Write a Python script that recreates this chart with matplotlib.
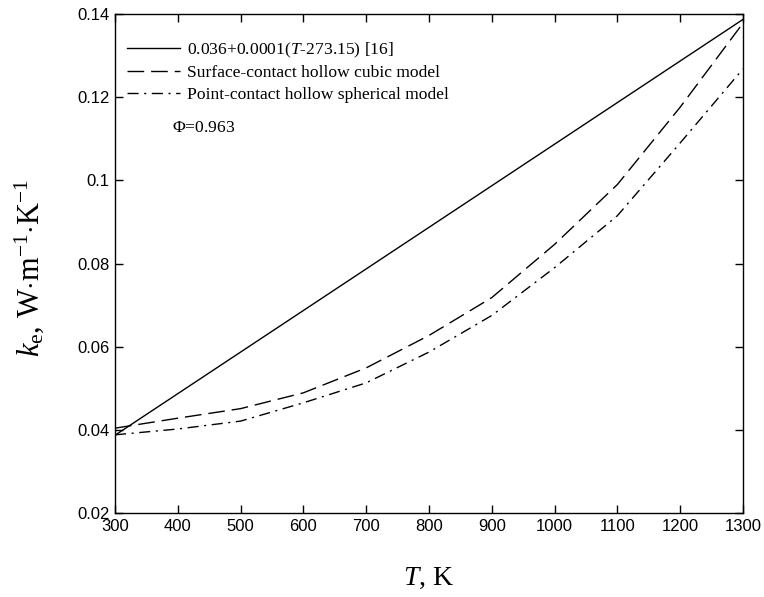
import matplotlib
matplotlib.use("Agg")
import matplotlib.pyplot as plt

plt.rcParams['mathtext.fontset'] = 'custom'
plt.rcParams['mathtext.rm'] = 'Liberation Serif'
plt.rcParams['mathtext.it'] = 'Liberation Serif:italic'
plt.rcParams['mathtext.bf'] = 'Liberation Serif:bold'

T = [300, 400, 500, 600, 700, 800, 900, 1000, 1100, 1200, 1300]
k_empirical = [0.0387, 0.0487, 0.0587, 0.0687, 0.0787, 0.0887, 0.0987, 0.1087, 0.1187, 0.1287, 0.1387]
k_cubic = [0.0404, 0.0428, 0.0451, 0.0489, 0.0549, 0.0627, 0.0718, 0.0846, 0.0990, 0.1176, 0.1378]
k_spherical = [0.0388, 0.0402, 0.0421, 0.0465, 0.0513, 0.0587, 0.0675, 0.0790, 0.0915, 0.1090, 0.1268]

labels = [r'0.036+0.0001($\mathit{T}$-273.15) [16]',
          'Surface-contact hollow cubic model',
          'Point-contact hollow spherical model']
xticks = [300, 400, 500, 600, 700, 800, 900, 1000, 1100, 1200, 1300]
yticks = [0.02, 0.04, 0.06, 0.08, 0.1, 0.12, 0.14]
yticklabels = ['0.02', '0.04', '0.06', '0.08', '0.1', '0.12', '0.14']

fig = plt.figure(figsize=(7.64, 5.97), dpi=100)
ax = fig.add_axes([115/764, 1 - 513/597, (743-115)/764, (513-14)/597])

ax.plot(T, k_empirical, color='black', lw=1.0, label=labels[0])
ax.plot(T, k_cubic, color='black', lw=1.0, dashes=(12, 5), label=labels[1])
ax.plot(T, k_spherical, color='black', lw=1.0, dashes=(8, 4, 1.5, 4), label=labels[2])

ax.set_xlim(300, 1300)
ax.set_ylim(0.02, 0.14)
ax.set_xticks(xticks)
ax.set_xticklabels([str(v) for v in xticks])
ax.set_yticks(yticks)
ax.set_yticklabels(yticklabels)
ax.tick_params(direction='in', length=5.5, width=1.0, top=True, right=True,
               labelsize=12, pad=4)
for lab in ax.get_xticklabels() + ax.get_yticklabels():
    lab.set_family('Liberation Sans')
for s in ax.spines.values():
    s.set_linewidth(1.0)

ax.set_xlabel(r'$\mathit{T}$, K', fontsize=20, family='Liberation Serif', labelpad=23)
ax.set_ylabel(r'$\mathit{k}_{\mathrm{e}}$, W$\cdot$m$^{-1}$$\cdot$K$^{-1}$', fontsize=22,
              family='Liberation Serif')
ax.yaxis.set_label_coords(-0.11, 0.49)

leg = ax.legend(loc='upper left', bbox_to_anchor=(-0.006, 0.978), frameon=False,
                prop={'family': 'Liberation Serif', 'size': 12.6},
                handlelength=3.05, handletextpad=0.4, labelspacing=0.3,
                borderaxespad=0.5)
fig.text(172/764, 1 - 128/597, r'$\Phi$=0.963', fontsize=12.6,
         family='Liberation Serif', va='center', ha='left')

fig.savefig('out.png', dpi=100)
